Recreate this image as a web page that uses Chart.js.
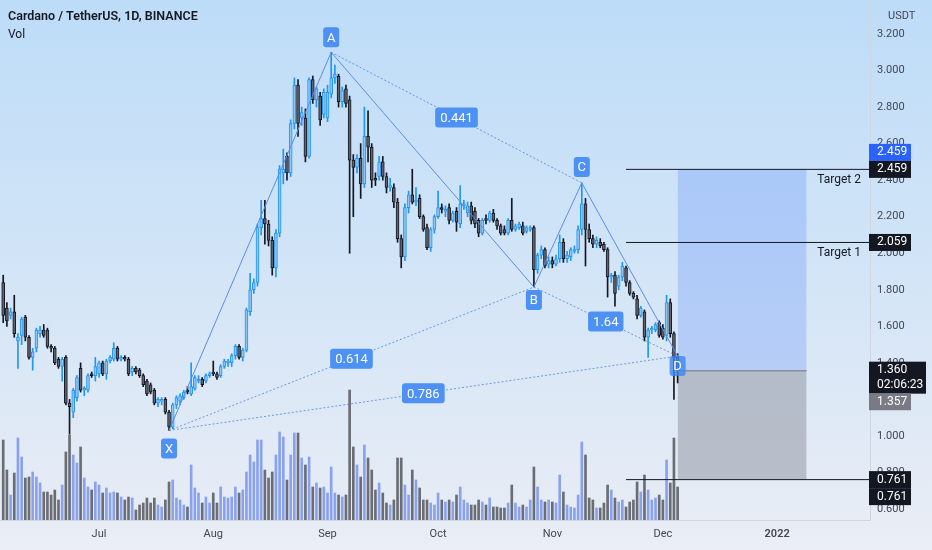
<!DOCTYPE html>
<html lang="en">
<head>
<meta charset="UTF-8">
<title>Cardano / TetherUS, 1D, BINANCE</title>
<script src="https://cdn.jsdelivr.net/npm/chart.js"></script>
<style>
  html, body { margin: 0; padding: 0; background: #ebeef6; }
  #wrap { width: 932px; height: 550px; }
</style>
</head>
<body>
<div id="wrap"><canvas id="chart" width="932" height="550"></canvas></div>
<script>
// day index: 0 = 1 Jun 2021, first candle is 5 Jun
const firstDay = 4;
const opens = [
  1.84,1.70,1.66,1.68,1.52,1.55,1.65,1.54,1.43,1.48,
  1.56,1.58,1.58,1.49,1.48,1.42,1.38,1.43,1.18,1.13,
  1.21,1.37,1.25,1.25,1.34,1.33,1.34,1.40,1.34,1.41,
  1.42,1.48,1.42,1.43,1.42,1.35,1.37,1.36,1.33,1.30,
  1.28,1.25,1.18,1.19,1.20,1.13,1.05,1.17,1.19,1.21,
  1.25,1.23,1.26,1.30,1.31,1.30,1.33,1.35,1.34,1.33,
  1.38,1.40,1.40,1.44,1.49,1.43,1.47,1.68,1.80,1.84,
  2.14,2.19,2.16,2.07,1.92,2.11,2.44,2.53,2.44,2.71,
  2.92,2.74,2.74,2.53,2.95,2.84,2.86,2.76,2.74,2.87,
  2.96,2.97,2.83,2.90,2.84,2.51,2.47,2.52,2.38,2.64,
  2.58,2.41,2.42,2.50,2.42,2.36,2.36,2.28,2.08,1.98,
  2.25,2.32,2.28,2.30,2.20,2.14,2.03,2.13,2.20,2.25,
  2.23,2.25,2.18,2.23,2.16,2.26,2.22,2.26,2.23,2.18,
  2.11,2.19,2.18,2.22,2.18,2.15,2.13,2.11,2.18,2.13,
  2.14,2.15,2.12,2.13,2.14,1.91,1.99,2.02,1.94,1.96,
  1.94,1.97,2.06,1.97,1.98,2.01,2.02,2.13,2.27,2.13,
  2.08,2.05,2.06,2.05,2.02,1.87,1.88,1.82,1.87,1.92,
  1.84,1.78,1.75,1.66,1.68,1.54,1.58,1.58,1.62,1.59,
  1.55,1.73,1.56,1.43
];
const highs = [
  1.88,1.73,1.70,1.77,1.56,1.65,1.66,1.55,1.48,1.59,
  1.60,1.61,1.59,1.50,1.49,1.43,1.43,1.44,1.20,1.26,
  1.33,1.40,1.27,1.34,1.35,1.43,1.41,1.41,1.42,1.44,
  1.51,1.49,1.44,1.44,1.43,1.38,1.38,1.37,1.34,1.31,
  1.29,1.26,1.21,1.21,1.21,1.14,1.18,1.22,1.23,1.25,
  1.27,1.40,1.33,1.33,1.32,1.34,1.35,1.41,1.35,1.39,
  1.42,1.42,1.45,1.50,1.50,1.48,1.70,1.89,1.86,2.16,
  2.29,2.29,2.18,2.09,2.13,2.48,2.57,2.55,2.73,2.96,
  2.95,2.80,2.79,2.96,2.97,2.91,2.88,2.90,2.92,3.10,
  3.03,2.98,2.91,2.92,2.86,2.54,2.54,2.60,2.80,2.78,
  2.60,2.44,2.53,2.53,2.44,2.41,2.38,2.30,2.10,2.27,
  2.34,2.46,2.36,2.32,2.21,2.16,2.14,2.21,2.34,2.27,
  2.26,2.27,2.23,2.25,2.37,2.29,2.28,2.28,2.25,2.19,
  2.19,2.21,2.23,2.24,2.19,2.16,2.15,2.19,2.30,2.16,
  2.17,2.17,2.15,2.15,2.15,2.00,2.04,2.03,1.98,1.98,
  1.99,2.10,2.08,2.01,2.03,2.04,2.15,2.385,2.30,2.16,
  2.10,2.09,2.08,2.06,2.03,1.89,1.90,1.88,1.95,1.93,
  1.85,1.79,1.77,1.71,1.69,1.59,1.60,1.62,1.63,1.61,
  1.77,1.75,1.57,1.45
];
const lows = [
  1.62,1.60,1.64,1.54,1.37,1.50,1.52,1.42,1.36,1.46,
  1.54,1.54,1.48,1.46,1.39,1.37,1.30,1.17,1.01,1.10,
  1.19,1.24,1.22,1.24,1.32,1.30,1.32,1.33,1.31,1.40,
  1.41,1.41,1.41,1.41,1.33,1.33,1.34,1.32,1.27,1.22,
  1.23,1.17,1.16,1.17,1.12,1.03,1.04,1.15,1.17,1.20,
  1.23,1.22,1.25,1.29,1.27,1.29,1.32,1.33,1.31,1.32,
  1.37,1.38,1.38,1.42,1.42,1.41,1.46,1.66,1.78,1.82,
  2.10,2.05,2.04,1.88,1.87,2.09,2.38,2.40,2.42,2.68,
  2.64,2.70,2.50,2.52,2.82,2.80,2.70,2.74,2.72,2.85,
  2.93,2.80,2.80,2.80,2.00,2.20,2.44,2.30,2.36,2.50,
  2.36,2.37,2.40,2.40,2.33,2.34,2.25,2.06,1.92,1.96,
  2.22,2.27,2.26,2.19,2.12,2.02,2.01,2.11,2.19,2.22,
  2.20,2.16,2.17,2.12,2.14,2.24,2.20,2.16,2.14,2.09,
  2.10,2.16,2.17,2.17,2.13,2.10,2.10,2.10,2.12,2.12,
  2.13,2.10,2.11,2.12,1.815,1.89,1.97,1.92,1.92,1.92,
  1.93,1.95,1.95,1.95,1.96,2.00,2.00,2.10,1.93,2.06,
  2.03,2.03,2.03,2.01,1.76,1.84,1.71,1.80,1.85,1.82,
  1.77,1.75,1.64,1.65,1.52,1.43,1.56,1.57,1.54,1.53,
  1.52,1.54,1.20,1.29
];
const closes = [
  1.66,1.63,1.68,1.56,1.54,1.64,1.54,1.43,1.46,1.58,
  1.58,1.55,1.49,1.48,1.40,1.38,1.42,1.18,1.16,1.25,
  1.32,1.25,1.26,1.33,1.33,1.38,1.40,1.34,1.41,1.43,
  1.48,1.42,1.43,1.42,1.34,1.37,1.35,1.33,1.28,1.23,
  1.24,1.18,1.20,1.20,1.13,1.05,1.17,1.21,1.22,1.24,
  1.24,1.27,1.32,1.31,1.28,1.33,1.34,1.34,1.32,1.38,
  1.41,1.41,1.44,1.49,1.43,1.47,1.69,1.80,1.84,2.14,
  2.19,2.16,2.07,1.92,2.11,2.46,2.46,2.44,2.71,2.92,
  2.71,2.77,2.53,2.95,2.84,2.90,2.73,2.88,2.88,2.96,
  2.98,2.83,2.89,2.82,2.51,2.47,2.52,2.38,2.64,2.58,
  2.40,2.40,2.50,2.42,2.36,2.37,2.28,2.08,1.98,2.25,
  2.32,2.28,2.29,2.20,2.13,2.03,2.13,2.20,2.25,2.24,
  2.24,2.18,2.22,2.17,2.27,2.27,2.26,2.18,2.16,2.11,
  2.18,2.18,2.22,2.18,2.15,2.11,2.11,2.18,2.13,2.15,
  2.16,2.11,2.14,2.14,1.91,1.99,2.02,1.93,1.96,1.94,
  1.97,2.06,1.97,1.99,2.02,2.02,2.13,2.27,2.13,2.08,
  2.05,2.07,2.04,2.02,1.87,1.88,1.78,1.87,1.93,1.84,
  1.78,1.76,1.66,1.70,1.54,1.58,1.59,1.61,1.55,1.54,
  1.73,1.56,1.43,1.36
];
// relative volume
const volumes = [
  80,50,25,47,82,63,42,43,48,43,
  37,28,28,25,30,20,35,68,85,65,
  57,73,42,33,30,38,35,27,32,27,
  28,27,23,20,23,22,10,15,17,22,
  17,22,15,13,20,38,40,22,20,15,
  13,55,32,27,17,23,17,27,17,33,
  23,22,23,33,27,30,48,65,58,80,
  80,50,42,48,65,88,83,40,65,87,
  87,62,55,63,33,37,32,33,27,53,
  27,25,23,25,130,73,55,43,75,62,
  50,30,37,27,17,15,20,62,62,35,
  25,50,40,32,20,20,17,15,27,20,
  18,20,18,25,33,20,17,15,15,20,
  18,15,22,13,13,12,12,17,35,17,
  13,15,13,20,53,33,20,18,20,18,
  17,45,28,15,13,12,25,78,65,22,
  20,12,12,17,35,30,22,18,20,13,
  18,20,38,28,45,30,20,22,25,20,
  60,37,82,33
];

const monthTicks = [30, 61, 92, 122, 153, 183, 214];
const monthLabels = ['Jul', 'Aug', 'Sep', 'Oct', 'Nov', 'Dec', '2022'];
const priceTicks = [0.6, 0.8, 1.0, 1.2, 1.4, 1.6, 1.8, 2.0, 2.2, 2.4, 2.6, 2.8, 3.0, 3.2];

// harmonic pattern X A B C D
const patternNames = ['X', 'A', 'B', 'C', 'D'];
const patternDays = [49, 93, 148, 161, 187];
const patternPrices = [1.03, 3.10, 1.815, 2.385, 1.437];
const ratioLegs = [[0, 2], [1, 3], [2, 4], [0, 4]];
const ratioLabels = ['0.614', '0.441', '1.64', '0.786'];

// long position
const target2 = 2.459, target1 = 2.059, entryPrice = 1.357, stopPrice = 0.761, lastPrice = 1.360;
const targetLineStart = 173, positionStart = 187, positionEnd = 222;
const countdown = '02:06:23';

const xMin = 3.13, xMax = 239.2;
const yMin = 0.540, yMax = 3.386;

const days = opens.map((_, i) => firstDay + i);
const isUp = i => closes[i] >= opens[i];

const FONT = 'Roboto, "Open Sans", sans-serif';

function roundRect(ctx, x, y, w, h, r) {
    ctx.beginPath();
    ctx.moveTo(x + r, y);
    ctx.lineTo(x + w - r, y);
    ctx.quadraticCurveTo(x + w, y, x + w, y + r);
    ctx.lineTo(x + w, y + h - r);
    ctx.quadraticCurveTo(x + w, y + h, x + w - r, y + h);
    ctx.lineTo(x + r, y + h);
    ctx.quadraticCurveTo(x, y + h, x, y + h - r);
    ctx.lineTo(x, y + r);
    ctx.quadraticCurveTo(x, y, x + r, y);
    ctx.closePath();
}

const backgroundPlugin = {
    id: 'bg',
    beforeDraw(chart) {
        const ctx = chart.ctx;
        const g = ctx.createLinearGradient(0, 0, 0, chart.height);
        g.addColorStop(0, '#bddcf8');
        g.addColorStop(0.5, '#d3e5f7');
        g.addColorStop(0.94, '#e7ecf5');
        g.addColorStop(1, '#ebeef6');
        ctx.save();
        ctx.fillStyle = g;
        ctx.fillRect(0, 0, chart.width, chart.height);
        ctx.restore();
    }
};

const patternLabelPlugin = {
    id: 'patternLabels',
    afterDatasetsDraw(chart) {
        const ctx = chart.ctx, xs = chart.scales.x, ys = chart.scales.y;
        ctx.save();
        ctx.font = '13px ' + FONT;
        ctx.textAlign = 'center';
        ctx.textBaseline = 'middle';
        // ratio boxes at the middle of each dotted leg
        ratioLegs.forEach(([a, b], i) => {
            const cx = (xs.getPixelForValue(patternDays[a]) + xs.getPixelForValue(patternDays[b])) / 2;
            const cy = (ys.getPixelForValue(patternPrices[a]) + ys.getPixelForValue(patternPrices[b])) / 2;
            const w = ctx.measureText(ratioLabels[i]).width + 10;
            ctx.fillStyle = '#4c91f3';
            roundRect(ctx, cx - w / 2, cy - 10, w, 20, 3);
            ctx.fill();
            ctx.fillStyle = '#ffffff';
            ctx.fillText(ratioLabels[i], cx, cy + 1);
        });
        // point letters
        const offsets = [18, -15, 13, -16, 10];
        patternNames.forEach((n, i) => {
            const cx = xs.getPixelForValue(patternDays[i]);
            const cy = ys.getPixelForValue(patternPrices[i]) + offsets[i];
            ctx.fillStyle = i === 4 ? 'rgba(60,135,240,0.8)' : '#4c91f3';
            roundRect(ctx, cx - 8, cy - 10, 16, 20, 3);
            ctx.fill();
            ctx.fillStyle = '#ffffff';
            ctx.fillText(n, cx, cy + 1);
        });
        // target captions
        ctx.font = '12px ' + FONT;
        ctx.fillStyle = '#131722';
        ctx.textAlign = 'right';
        ctx.fillText('Target 2', 861, ys.getPixelForValue(target2) + 11);
        ctx.fillText('Target 1', 861, ys.getPixelForValue(target1) + 11);
        ctx.restore();
    },
    afterDraw(chart) {
        const ctx = chart.ctx, ys = chart.scales.y;
        const left = chart.chartArea.right;
        ctx.save();
        ctx.font = '12px ' + FONT;
        ctx.textBaseline = 'middle';
        ctx.textAlign = 'left';
        function tag(price, shift, bg, text, extra) {
            const cy = ys.getPixelForValue(price) + shift;
            const h = extra ? 32 : 17;
            const w = extra ? 57 : 42;
            ctx.fillStyle = bg;
            ctx.fillRect(left - 1, cy - 8.5, w, h);
            ctx.fillStyle = '#ffffff';
            ctx.fillText(text, left + 7, cy);
            if (extra) ctx.fillText(extra, left + 7, cy + 15);
        }
        tag(target2, -17, '#2962ff', target2.toFixed(3));
        tag(target2, 0, '#131722', target2.toFixed(3));
        tag(target1, 0, '#131722', target1.toFixed(3));
        tag(lastPrice, 0, '#131722', lastPrice.toFixed(3), countdown);
        tag(entryPrice, 31, '#787b86', entryPrice.toFixed(3));
        tag(stopPrice, 0, '#131722', stopPrice.toFixed(3));
        tag(stopPrice, 17, '#131722', stopPrice.toFixed(3));

        ctx.fillStyle = '#434651';
        ctx.font = '11px ' + FONT;
        ctx.fillText('USDT', left + 18, 16);

        ctx.fillStyle = '#131722';
        ctx.font = '600 12.5px ' + FONT;
        ctx.fillText('Cardano / TetherUS, 1D, BINANCE', 8, 17);
        ctx.font = '12px ' + FONT;
        ctx.fillText('Vol', 8, 35);
        ctx.restore();
    }
};

const pt = i => ({ x: patternDays[i], y: patternPrices[i] });

const datasets = [
    {
        type: 'line', label: 'profit', order: 20,
        data: [{ x: positionStart, y: target2 }, { x: positionEnd, y: target2 }],
        borderWidth: 0, pointRadius: 0, fill: { value: entryPrice },
        backgroundColor: 'rgba(41,98,255,0.2)'
    },
    {
        type: 'line', label: 'loss', order: 20,
        data: [{ x: positionStart, y: stopPrice }, { x: positionEnd, y: stopPrice }],
        borderWidth: 0, pointRadius: 0, fill: { value: entryPrice },
        backgroundColor: 'rgba(120,123,134,0.4)'
    },
    {
        type: 'bar', label: 'Vol', order: 15, yAxisID: 'yv', grouped: false,
        data: days.map((d, i) => ({ x: d, y: volumes[i] })),
        barThickness: 2,
        backgroundColor: ctx => isUp(ctx.dataIndex) ? '#8aa2ee' : '#6a6d73'
    },
    {
        type: 'bar', label: 'wicks', order: 10, grouped: false,
        data: days.map((d, i) => ({ x: d, y: [lows[i], highs[i]] })),
        barThickness: 1,
        backgroundColor: ctx => isUp(ctx.dataIndex) ? '#2196f3' : '#131722'
    },
    {
        type: 'bar', label: 'ADAUSDT', order: 9, grouped: false,
        data: days.map((d, i) => ({ x: d, y: [opens[i], closes[i]] })),
        barThickness: 3, borderWidth: 1, borderSkipped: false,
        backgroundColor: ctx => isUp(ctx.dataIndex) ? '#8cc4f2' : '#5f636d',
        borderColor: ctx => isUp(ctx.dataIndex) ? '#2196f3' : '#131722'
    },
    ...ratioLegs.map(([a, b]) => ({
        type: 'line', label: 'leg', order: 6,
        data: [pt(a), pt(b)],
        borderColor: 'rgba(70,125,230,0.75)', borderWidth: 1, borderDash: [2, 2],
        pointRadius: 0, fill: false
    })),
    {
        type: 'line', label: 'XABCD', order: 5,
        data: patternNames.map((_, i) => pt(i)),
        borderColor: '#5b8def', borderWidth: 1, pointRadius: 0, fill: false
    },
    ...[target2, target1, stopPrice].map(p => ({
        type: 'line', label: 'target', order: 4,
        data: [{ x: targetLineStart, y: p }, { x: xMax, y: p }],
        borderColor: '#131722', borderWidth: 1, pointRadius: 0, fill: false
    })),
    {
        type: 'line', label: 'entry', order: 4,
        data: [{ x: positionStart, y: entryPrice }, { x: positionEnd, y: entryPrice }],
        borderColor: '#8a8e99', borderWidth: 1.5, pointRadius: 0, fill: false
    }
];

new Chart(document.getElementById('chart'), {
    type: 'bar',
    data: { datasets: datasets },
    options: {
        responsive: false,
        animation: false,
        devicePixelRatio: 1,
        layout: { padding: 0 },
        plugins: { legend: { display: false }, tooltip: { enabled: false } },
        scales: {
            x: {
                type: 'linear', min: xMin, max: xMax, offset: false,
                grid: { display: false, drawTicks: false },
                border: { display: true, color: '#cfd6e2' },
                afterFit: s => { s.height = 30; s.paddingLeft = 0; s.paddingRight = 0; },
                afterBuildTicks: s => { s.ticks = monthTicks.map(v => ({ value: v })); },
                ticks: {
                    padding: 8, color: '#434651', maxRotation: 0, autoSkip: false,
                    font: ctx => ({ family: FONT, size: 11, weight: ctx.index === 6 ? '600' : '400' }),
                    callback: (v, i) => monthLabels[i]
                }
            },
            y: {
                type: 'linear', position: 'right', min: yMin, max: yMax,
                grid: { display: false, drawTicks: false },
                border: { display: true, color: '#cfd6e2' },
                afterFit: s => { s.width = 62; s.paddingTop = 0; s.paddingBottom = 0; },
                afterBuildTicks: s => { s.ticks = priceTicks.map(v => ({ value: v })); },
                ticks: {
                    padding: 7, color: '#434651',
                    font: { family: FONT, size: 11 },
                    callback: v => v.toFixed(3)
                }
            },
            yv: { type: 'linear', display: false, min: 0, max: 520 }
        }
    },
    plugins: [backgroundPlugin, patternLabelPlugin]
});
</script>
</body>
</html>
